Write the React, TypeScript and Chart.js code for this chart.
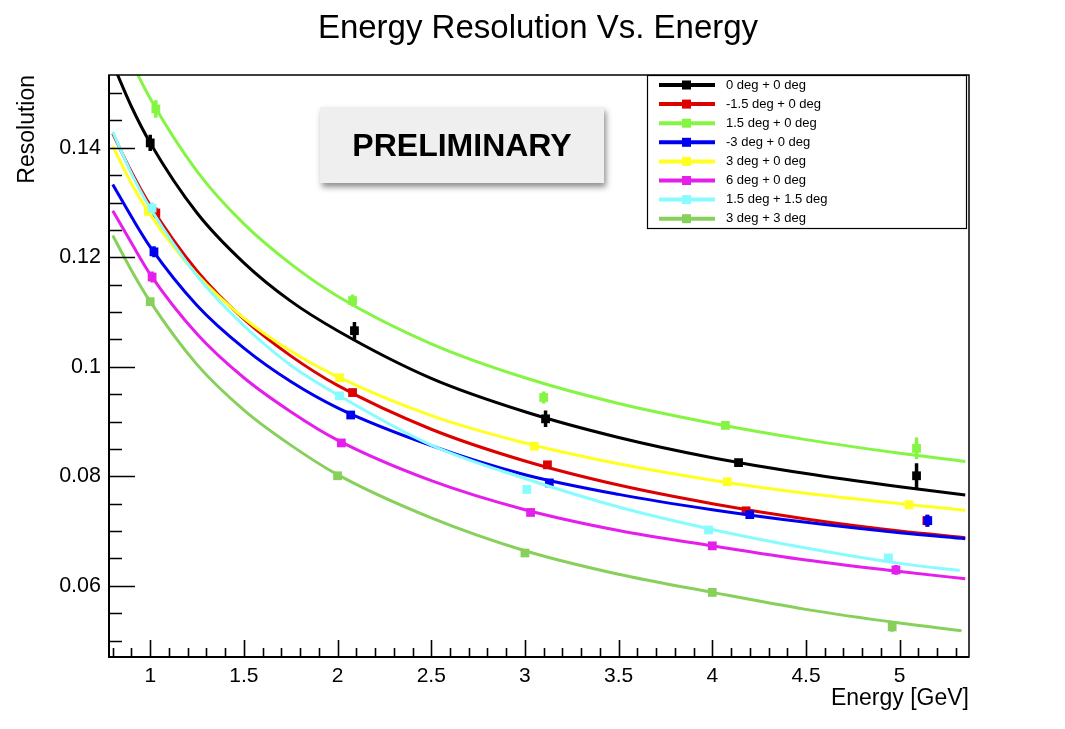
import React, { useEffect, useRef } from "react";
import { Chart, registerables } from "chart.js";

Chart.register(...registerables);

const FONT = '"Liberation Sans", Arial, Helvetica, sans-serif';

const chartTitle = "Energy Resolution Vs. Energy";
const xAxisTitle = "Energy [GeV]";
const yAxisTitle = "Resolution";
const watermark = "PRELIMINARY";

const xMin = 0.78;
const xMax = 5.37;
const yMin = 0.047;
const yMax = 0.1533;

const xTickValues = [1, 1.5, 2, 2.5, 3, 3.5, 4, 4.5, 5];
const xTickLabels = ["1", "1.5", "2", "2.5", "3", "3.5", "4", "4.5", "5"];
const yTickValues = [0.06, 0.08, 0.1, 0.12, 0.14];
const yTickLabels = ["0.06", "0.08", "0.1", "0.12", "0.14"];

const seriesLabels = [
  "0 deg + 0 deg",
  "-1.5 deg + 0 deg",
  "1.5 deg + 0 deg",
  "-3 deg + 0 deg",
  "3 deg + 0 deg",
  "6 deg + 0 deg",
  "1.5 deg + 1.5 deg",
  "3 deg + 3 deg",
];
const seriesColors = ["#000000", "#dd0000", "#84f542", "#0000f0", "#ffff22", "#e41fec", "#88fbff", "#88d05c"];

// fitted curves
const curveEnergy = [0.8, 0.9, 1, 1.25, 1.5, 1.75, 2, 2.5, 3, 3.5, 4, 4.5, 5, 5.35];
const curveEndEnergy = [5.35, 5.35, 5.35, 5.35, 5.35, 5.35, 5.32, 5.33];
const curveBlack = [0.1554, 0.1475, 0.1409, 0.1281, 0.119, 0.112, 0.1066, 0.0979, 0.0918, 0.0871, 0.0834, 0.0805, 0.0781, 0.0766];
const curveRed = [0.1426, 0.1356, 0.1295, 0.1175, 0.1087, 0.102, 0.0966, 0.0886, 0.0828, 0.0784, 0.075, 0.0722, 0.07, 0.0688];
const curveLightGreen = [0.164, 0.1558, 0.149, 0.1357, 0.1261, 0.1188, 0.1129, 0.1042, 0.098, 0.0933, 0.0897, 0.0867, 0.0842, 0.0827];
const curveBlue = [0.1333, 0.1274, 0.1219, 0.1112, 0.1034, 0.0973, 0.0925, 0.0856, 0.0803, 0.0767, 0.0739, 0.0716, 0.0697, 0.0686];
const curveYellow = [0.1403, 0.1335, 0.1278, 0.1168, 0.1089, 0.1029, 0.0982, 0.0911, 0.0861, 0.0823, 0.0793, 0.0769, 0.075, 0.0738];
const curveMagenta = [0.1285, 0.1226, 0.1169, 0.106, 0.098, 0.0918, 0.0866, 0.0792, 0.0739, 0.0701, 0.0673, 0.0647, 0.0626, 0.0613];
const curveCyan = [0.1429, 0.1353, 0.129, 0.1166, 0.1075, 0.1003, 0.0949, 0.0857, 0.0796, 0.0744, 0.0703, 0.0669, 0.0641, 0.0628];
const curveGreen = [0.124, 0.1176, 0.1119, 0.1004, 0.0921, 0.0857, 0.0803, 0.0724, 0.0664, 0.0621, 0.0588, 0.0557, 0.0532, 0.0518];

// measured points
const energyBlack = [1.0, 2.09, 3.11, 4.14, 5.09];
const resBlack = [0.1409, 0.1066, 0.0905, 0.0825, 0.0801];
const errBlack = [0.0015, 0.0016, 0.0015, 0.0004, 0.0023];

const energyRed = [1.03, 2.08, 3.12, 4.18, 5.145];
const resRed = [0.1281, 0.0953, 0.0821, 0.0737, 0.0719];
const errRed = [0.001, 0.0004, 0.0004, 0.0004, 0.0011];

const energyLightGreen = [1.03, 2.08, 3.1, 4.07, 5.09];
const resLightGreen = [0.1471, 0.1121, 0.0944, 0.0893, 0.0851];
const errLightGreen = [0.0016, 0.0011, 0.0011, 0.0004, 0.002];

const energyBlue = [1.02, 2.07, 3.13, 4.2, 5.15];
const resBlue = [0.121, 0.0912, 0.0788, 0.073, 0.0719];
const errBlue = [0.001, 0.0004, 0.0004, 0.0004, 0.0011];

const energyYellow = [0.99, 2.01, 3.05, 4.08, 5.05];
const resYellow = [0.1284, 0.098, 0.0855, 0.079, 0.0748];
const errYellow = [0.0008, 0.0003, 0.0003, 0.0003, 0.0003];

const energyMagenta = [1.01, 2.02, 3.03, 4.0, 4.98];
const resMagenta = [0.1164, 0.0861, 0.0734, 0.0673, 0.0629];
const errMagenta = [0.001, 0.0003, 0.0004, 0.0003, 0.0009];

const energyCyan = [1.01, 2.01, 3.01, 3.98, 4.94];
const resCyan = [0.129, 0.0947, 0.0776, 0.0702, 0.0651];
const errCyan = [0.001, 0.0003, 0.0003, 0.0003, 0.0003];

const energyGreen = [1.0, 2.0, 3.0, 4.0, 4.96];
const resGreen = [0.1119, 0.0801, 0.066, 0.0588, 0.0525];
const errGreen = [0.0004, 0.0003, 0.0003, 0.0003, 0.0009];

const curves = [curveBlack, curveRed, curveLightGreen, curveBlue, curveYellow, curveMagenta, curveCyan, curveGreen];
const pointEnergies = [energyBlack, energyRed, energyLightGreen, energyBlue, energyYellow, energyMagenta, energyCyan, energyGreen];
const pointRes = [resBlack, resRed, resLightGreen, resBlue, resYellow, resMagenta, resCyan, resGreen];
const pointErr = [errBlack, errRed, errLightGreen, errBlue, errYellow, errMagenta, errCyan, errGreen];

const rootStylePlugin = {
  id: "rootStyle",
  afterDatasetDraw(chart: any, args: any) {
    const ds = chart.data.datasets[args.index];
    if (!ds.errors) return;
    const { ctx } = chart;
    const x = chart.scales.x;
    const y = chart.scales.y;
    ctx.save();
    ctx.strokeStyle = ds.backgroundColor;
    ctx.lineWidth = 3.5;
    ctx.beginPath();
    ds.data.forEach((p: any, j: number) => {
      const e = ds.errors[j];
      const px = x.getPixelForValue(p.x);
      ctx.moveTo(px, y.getPixelForValue(p.y - e));
      ctx.lineTo(px, y.getPixelForValue(p.y + e));
    });
    ctx.stroke();
    ctx.restore();
  },
  afterDraw(chart: any) {
    const { ctx, chartArea: a } = chart;
    const x = chart.scales.x;
    const y = chart.scales.y;
    ctx.save();
    // frame
    ctx.strokeStyle = "#000";
    ctx.lineWidth = 1.5;
    ctx.strokeRect(a.left, a.top, a.right - a.left, a.bottom - a.top);
    ctx.lineWidth = 2;
    ctx.beginPath();
    ctx.moveTo(a.left, a.top);
    ctx.lineTo(a.left, a.bottom);
    ctx.lineTo(a.right, a.bottom);
    ctx.stroke();
    // inner ticks
    ctx.lineWidth = 1.6;
    ctx.beginPath();
    for (let k = Math.ceil(xMin * 10); k <= Math.floor(xMax * 10); k++) {
      const px = Math.round(x.getPixelForValue(k / 10)) + 0.5;
      const len = k % 5 === 0 ? 17 : 9;
      ctx.moveTo(px, a.bottom);
      ctx.lineTo(px, a.bottom - len);
    }
    for (let k = Math.ceil(yMin * 200); k <= Math.floor(yMax * 200); k++) {
      const py = Math.round(y.getPixelForValue(k / 200)) + 0.5;
      const len = k % 4 === 0 ? 26 : 13;
      ctx.moveTo(a.left, py);
      ctx.lineTo(a.left + len, py);
    }
    ctx.stroke();

    // title
    ctx.fillStyle = "#000";
    ctx.font = `33px ${FONT}`;
    ctx.textAlign = "center";
    ctx.textBaseline = "middle";
    ctx.fillText(chartTitle, 538, 29);

    // PRELIMINARY box
    ctx.save();
    ctx.shadowColor = "rgba(0,0,0,0.45)";
    ctx.shadowBlur = 6;
    ctx.shadowOffsetX = 2;
    ctx.shadowOffsetY = 4;
    ctx.fillStyle = "#efefef";
    ctx.fillRect(320, 107, 284, 76);
    ctx.restore();
    ctx.fillStyle = "#000";
    ctx.font = `bold 32px ${FONT}`;
    ctx.textAlign = "center";
    ctx.textBaseline = "middle";
    ctx.fillText(watermark, 462, 147);

    // legend
    const lx = 647;
    const ly = 75;
    const lw = 319;
    const lh = 153;
    ctx.fillStyle = "#fff";
    ctx.fillRect(lx, ly, lw, lh);
    ctx.strokeStyle = "#000";
    ctx.lineWidth = 1.2;
    ctx.strokeRect(lx + 0.5, ly + 0.5, lw, lh);
    ctx.font = `13px ${FONT}`;
    ctx.textAlign = "left";
    ctx.textBaseline = "middle";
    seriesLabels.forEach((label, i) => {
      const cy = ly + 10 + i * 19.1;
      ctx.strokeStyle = seriesColors[i];
      ctx.lineWidth = 4;
      ctx.beginPath();
      ctx.moveTo(659, cy);
      ctx.lineTo(715, cy);
      ctx.stroke();
      ctx.fillStyle = seriesColors[i];
      ctx.fillRect(682, cy - 4.5, 9, 9);
      ctx.fillStyle = "#000";
      ctx.fillText(label, 726, cy);
    });
    ctx.restore();
  },
};

export default function App() {
  const canvasRef = useRef<HTMLCanvasElement | null>(null);

  useEffect(() => {
    document.body.style.margin = "0";
    const canvas = canvasRef.current;
    if (!canvas) return;
    const datasets: any[] = [];
    seriesLabels.forEach((label, i) => {
      const last = curveEnergy.length - 1;
      datasets.push({
        label: label + " fit",
        data: curveEnergy.map((e, j) => ({ x: j === last ? curveEndEnergy[i] : e, y: curves[i][j] })),
        showLine: true,
        borderColor: seriesColors[i],
        backgroundColor: seriesColors[i],
        borderWidth: 3,
        pointRadius: 0,
        cubicInterpolationMode: "monotone",
        order: -2 * i,
      });
      datasets.push({
        label,
        data: pointEnergies[i].map((e, j) => ({ x: e, y: pointRes[i][j] })),
        errors: pointErr[i],
        showLine: false,
        pointStyle: "rect",
        pointRadius: 6.2,
        pointBorderWidth: 0,
        borderWidth: 0,
        backgroundColor: seriesColors[i],
        borderColor: seriesColors[i],
        order: -2 * i - 1,
      });
    });

    const chart = new Chart(canvas, {
      type: "scatter",
      data: { datasets },
      options: {
        animation: false,
        responsive: false,
        devicePixelRatio: 1,
        events: [],
        layout: { padding: { top: 75, right: 96, left: 0, bottom: 0 } },
        plugins: {
          legend: { display: false },
          tooltip: { enabled: false },
          title: { display: false },
        },
        scales: {
          x: {
            type: "linear",
            min: xMin,
            max: xMax,
            grid: { display: false, drawTicks: false },
            border: { display: false },
            afterBuildTicks: (s: any) => {
              s.ticks = xTickValues.map((v) => ({ value: v }));
            },
            afterFit: (s: any) => {
              s.height = 72;
            },
            ticks: {
              autoSkip: false,
              maxRotation: 0,
              padding: 7,
              color: "#000",
              font: { family: FONT, size: 21 },
              callback: (_v: any, idx: number) => xTickLabels[idx],
            },
            title: {
              display: true,
              text: xAxisTitle,
              align: "end",
              color: "#000",
              font: { family: FONT, size: 23 },
              padding: { top: 17, bottom: 17 },
            },
          },
          y: {
            type: "linear",
            min: yMin,
            max: yMax,
            grid: { display: false, drawTicks: false },
            border: { display: false },
            afterBuildTicks: (s: any) => {
              s.ticks = yTickValues.map((v) => ({ value: v }));
            },
            afterFit: (s: any) => {
              s.width = 109;
            },
            ticks: {
              autoSkip: false,
              padding: 8,
              color: "#000",
              font: { family: FONT, size: 21.5 },
              callback: (_v: any, idx: number) => yTickLabels[idx],
            },
            title: {
              display: true,
              text: yAxisTitle,
              align: "end",
              color: "#000",
              font: { family: FONT, size: 23 },
              padding: { top: 14, bottom: 14 },
            },
          },
        },
      } as any,
      plugins: [rootStylePlugin as any],
    });
    return () => chart.destroy();
  }, []);

  return (
    <div style={{ position: "fixed", left: 0, top: 0, width: 1065, height: 729, background: "#fff" }}>
      <canvas ref={canvasRef} width={1065} height={729} style={{ display: "block" }} />
    </div>
  );
}
